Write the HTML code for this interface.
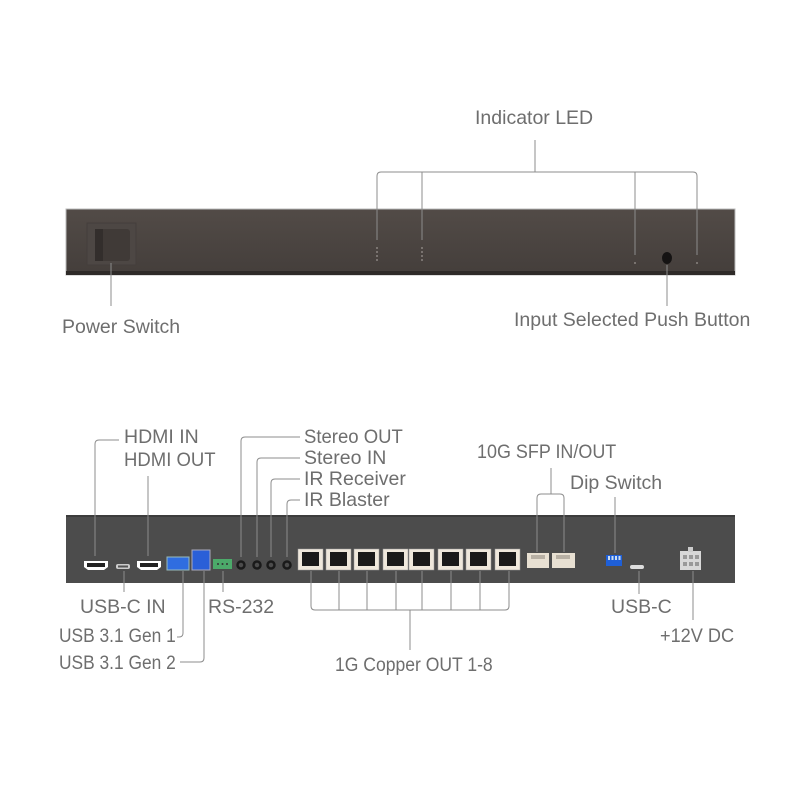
<!DOCTYPE html>
<html><head><meta charset="utf-8"><style>
body{margin:0;width:800px;height:800px;background:#fff;position:relative;overflow:hidden;font-family:"Liberation Sans",sans-serif}
.t{position:absolute;font-size:19.5px;color:#6e6e6e;white-space:nowrap;line-height:20px}
.c{transform:scaleX(0.89);transform-origin:left center}
svg{position:absolute;left:0;top:0}
</style></head><body>
<svg width="800" height="800">
<defs>
<linearGradient id="fp" x1="0" y1="0" x2="0" y2="1"><stop offset="0" stop-color="#524b47"/><stop offset="1" stop-color="#443e3b"/></linearGradient>
</defs>
<rect x="66" y="209" width="669" height="66" fill="url(#fp)" stroke="#bbb" stroke-width="1"/>
<rect x="66" y="271" width="669" height="4" fill="#2e2a28"/>
<rect x="87" y="223" width="49" height="42" fill="#4d4744" stroke="#443e3b"/>
<rect x="95" y="229" width="35" height="32" rx="3" fill="#403a37"/>
<rect x="95" y="229" width="8" height="32" fill="#332e2c"/>
<g fill="#8a8480">
<circle cx="377" cy="248" r="1"/><circle cx="377" cy="252" r="1"/><circle cx="377" cy="256" r="1"/><circle cx="377" cy="260" r="1"/>
<circle cx="422" cy="248" r="1"/><circle cx="422" cy="252" r="1"/><circle cx="422" cy="256" r="1"/><circle cx="422" cy="260" r="1"/>
<circle cx="635" cy="263" r="1"/><circle cx="697" cy="263" r="1"/>
</g>
<ellipse cx="667" cy="258" rx="5" ry="6" fill="#151313"/>
<g stroke="#8c8c8c" stroke-width="1" fill="none">
<path d="M377 240 V176 Q377 172 381 172 H693 Q697 172 697 176 V255"/>
<path d="M422 172 V240 M635 172 V255 M535 140 V172"/>
<path d="M111 263 V306 M667 265 V306"/>
</g>
<rect x="66" y="515" width="669" height="68" fill="#4c4c4c"/>
<rect x="66" y="515" width="669" height="2" fill="#3c3c3c"/>
<g fill="#fff"><path d="M84 561 H108 V567 L104 570 H88 L84 567Z"/><path d="M137 561 H161 V567 L157 570 H141 L137 567Z"/></g>
<g fill="#222"><rect x="87" y="563" width="18" height="4"/><rect x="140" y="563" width="18" height="4"/></g>
<rect x="116" y="564" width="14" height="5" rx="2" fill="#ccc"/><rect x="118" y="565.5" width="10" height="2" fill="#555"/>
<rect x="167" y="557" width="22" height="13" fill="#2f6de0" stroke="#9bb" stroke-width="1"/>
<rect x="192" y="550" width="18" height="20" fill="#2a5fd8" stroke="#aab" stroke-width="1"/>
<rect x="213" y="559" width="19" height="10" fill="#4caa6a"/>
<g fill="#333"><circle cx="218" cy="564" r="1"/><circle cx="222.5" cy="564" r="1"/><circle cx="227" cy="564" r="1"/></g>
<g fill="none" stroke="#1a1a1a" stroke-width="2.5"><circle cx="241" cy="565" r="3.5"/><circle cx="257" cy="565" r="3.5"/><circle cx="271" cy="565" r="3.5"/><circle cx="287" cy="565" r="3.5"/></g>
<g id="rj">
<rect x="298" y="549" width="25" height="21" fill="#efe8dc" stroke="#999" stroke-width="0.5"/>
<rect x="302" y="552" width="17" height="14" fill="#1a1a1a"/>
</g>
<use href="#rj" x="28"/><use href="#rj" x="56"/><use href="#rj" x="85"/><use href="#rj" x="111"/><use href="#rj" x="140"/><use href="#rj" x="168"/><use href="#rj" x="197"/>
<rect x="527" y="553" width="22" height="15" fill="#e8e0d2"/><rect x="552" y="553" width="23" height="15" fill="#e8e0d2"/>
<rect x="531" y="555" width="14" height="4" fill="#b8b0a4"/><rect x="556" y="555" width="14" height="4" fill="#b8b0a4"/>
<rect x="606" y="555" width="16" height="11" fill="#1e5fd8"/>
<g fill="#cde"><rect x="608" y="556" width="2" height="4"/><rect x="611.5" y="556" width="2" height="4"/><rect x="615" y="556" width="2" height="4"/><rect x="618.5" y="556" width="2" height="4"/></g>
<rect x="630" y="565" width="14" height="4" rx="2" fill="#ddd"/>
<rect x="680" y="551" width="21" height="19" fill="#d8d8d8"/><rect x="688" y="547" width="5" height="5" fill="#ccc"/>
<g fill="#999"><rect x="683" y="555" width="4" height="4"/><rect x="689" y="555" width="4" height="4"/><rect x="695" y="555" width="4" height="4"/><rect x="683" y="562" width="4" height="4"/><rect x="689" y="562" width="4" height="4"/><rect x="695" y="562" width="4" height="4"/></g>
<g stroke="#8c8c8c" stroke-width="1" fill="none">
<path d="M95 556 V444 Q95 440 99 440 H119"/>
<path d="M148 556 V476"/>
<path d="M241 557 V441 Q241 437 245 437 H300"/>
<path d="M257 557 V462 Q257 458 261 458 H300"/>
<path d="M271 557 V483 Q271 479 275 479 H300"/>
<path d="M287 557 V504 Q287 500 291 500 H300"/>
<path d="M124 571 V592"/>
<path d="M183 571 V633 Q183 637 179 637 H177"/>
<path d="M204 571 V658 Q204 662 200 662 H180"/>
<path d="M223 571 V592"/>
<path d="M311 571 V606 Q311 610 315 610 H505 Q509 610 509 606 V571"/>
<path d="M339 571 V610 M367 571 V610 M396 571 V610 M422 571 V610 M451 571 V610 M480 571 V610 M410 610 V650"/>
<path d="M537 552 V498 Q537 494 541 494 H560 Q564 494 564 498 V552 M551 494 V468"/>
<path d="M615 553 V497"/>
<path d="M639 571 V594"/>
<path d="M693 571 V620"/>
</g>
</svg>
<div class="t" style="left:475px;top:108px">Indicator LED</div>
<div class="t" style="left:62px;top:317px">Power Switch</div>
<div class="t" style="left:514px;top:310px">Input Selected Push Button</div>
<div class="t" style="left:124px;top:427px">HDMI IN</div>
<div class="t c" style="left:124px;top:450px;transform:scaleX(0.95)">HDMI OUT</div>
<div class="t c" style="left:304px;top:427px;transform:scaleX(0.95)">Stereo OUT</div>
<div class="t" style="left:304px;top:448px">Stereo IN</div>
<div class="t" style="left:304px;top:469px">IR Receiver</div>
<div class="t" style="left:304px;top:490px">IR Blaster</div>
<div class="t c" style="left:477px;top:442px;transform:scaleX(0.92)">10G SFP IN/OUT</div>
<div class="t" style="left:570px;top:473px">Dip Switch</div>
<div class="t" style="left:80px;top:597px">USB-C IN</div>
<div class="t" style="left:208px;top:597px">RS-232</div>
<div class="t c" style="left:59px;top:626px">USB 3.1 Gen 1</div>
<div class="t c" style="left:59px;top:653px">USB 3.1 Gen 2</div>
<div class="t c" style="left:335px;top:655px;transform:scaleX(0.9)">1G Copper OUT 1-8</div>
<div class="t" style="left:611px;top:597px">USB-C</div>
<div class="t c" style="left:660px;top:626px;transform:scaleX(0.93)">+12V DC</div>
</body></html>
